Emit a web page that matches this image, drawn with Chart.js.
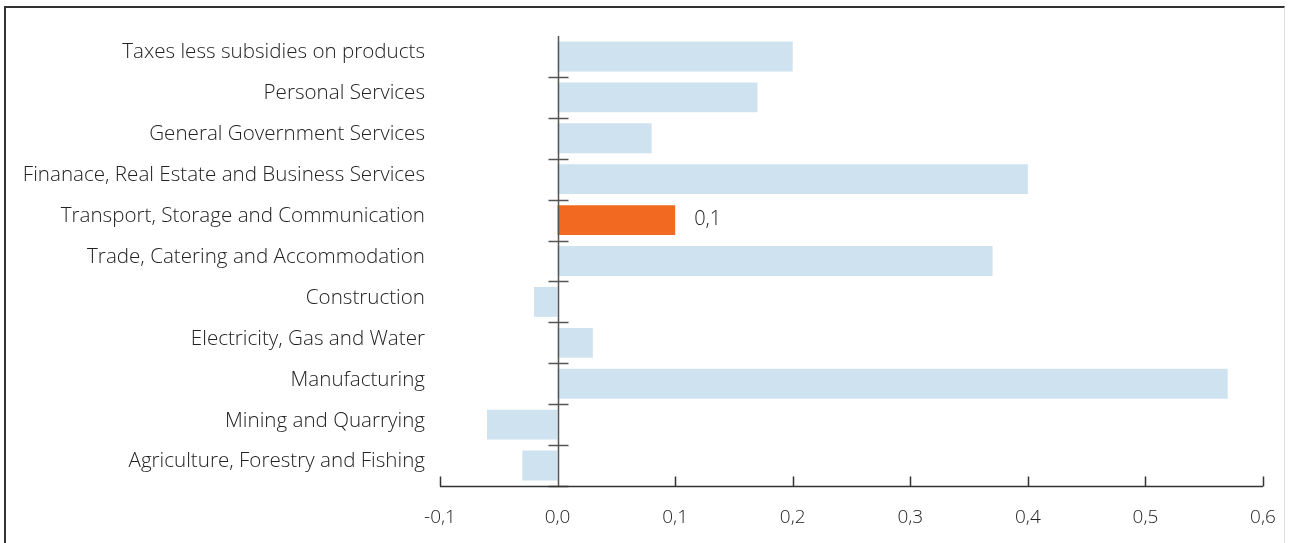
<!DOCTYPE html>
<html>
<head>
<meta charset="utf-8">
<script src="https://cdn.jsdelivr.net/npm/chart.js@4.4.0/dist/chart.umd.min.js"></script>
<style>
    html, body { margin: 0; padding: 0; background: #fff; }
    #frame {
        position: absolute; left: 4px; top: 6px; width: 1281px; height: 545px;
        border-left: 2px solid #333; border-top: 2px solid #333; border-right: 1px solid #ddd;
        box-sizing: border-box;
    }
    #wrap { position: absolute; left: 0; top: 0; width: 1291px; height: 543px; }
</style>
</head>
<body>
<div id="frame"></div>
<div id="wrap"><canvas id="chart"></canvas></div>
<script>
const categories = [
    'Taxes less subsidies on products',
    'Personal Services',
    'General Government Services',
    'Finanace, Real Estate and Business Services',
    'Transport, Storage and Communication',
    'Trade, Catering and Accommodation',
    'Construction',
    'Electricity, Gas and Water',
    'Manufacturing',
    'Mining and Quarrying',
    'Agriculture, Forestry and Fishing'
];
const values = [0.20, 0.17, 0.08, 0.40, 0.10, 0.37, -0.02, 0.03, 0.57, -0.06, -0.03];
const highlighted = 'Transport, Storage and Communication';
const axisMin = -0.1;
const axisMax = 0.6;
const axisStep = 0.1;

const fontFamily = "'Open Sans', 'Noto Sans', sans-serif";
const fmt = v => (Math.abs(v) < 1e-9 ? 0 : v).toFixed(1).replace('.', ',');

// zero line with category ticks, bottom axis with inner ticks, label on highlighted bar
const axesPlugin = {
    id: 'axesPlugin',
    afterDatasetsDraw(chart) {
        const { ctx, chartArea, scales } = chart;
        const x = scales.x;
        const x0 = Math.round(x.getPixelForValue(0)) + 0.5;
        ctx.save();
        ctx.strokeStyle = '#555';
        ctx.lineWidth = 1.5;
        ctx.beginPath();
        ctx.moveTo(x0, chartArea.top);
        ctx.lineTo(x0, chartArea.bottom);
        const step = (chartArea.bottom - chartArea.top) / categories.length;
        for (let i = 1; i <= categories.length; i++) {
            const yy = Math.round(chartArea.top + i * step) + 0.5;
            ctx.moveTo(x0 - 10, yy);
            ctx.lineTo(x0 + 10, yy);
        }
        ctx.stroke();

        ctx.strokeStyle = '#333';
        ctx.beginPath();
        const yb = Math.round(chartArea.bottom) + 0.5;
        ctx.moveTo(chartArea.left, yb);
        ctx.lineTo(chartArea.right, yb);
        x.ticks.forEach(t => {
            if (Math.abs(t.value) < 1e-9) return;
            const xx = Math.round(x.getPixelForValue(t.value)) + 0.5;
            ctx.moveTo(xx, yb);
            ctx.lineTo(xx, yb - 10);
        });
        ctx.stroke();

        const idx = categories.indexOf(highlighted);
        const bar = chart.getDatasetMeta(0).data[idx];
        ctx.fillStyle = '#222';
        ctx.font = '300 20px ' + fontFamily;
        ctx.textBaseline = 'middle';
        ctx.textAlign = 'left';
        ctx.fillText(fmt(values[idx]), bar.x + 19, bar.y - 1);
        ctx.restore();
    }
};

new Chart(document.getElementById('chart'), {
    type: 'bar',
    data: {
        labels: categories,
        datasets: [{
            data: values,
            backgroundColor: categories.map(c => c === highlighted ? '#f26922' : '#cfe2f0'),
            borderWidth: 0,
            categoryPercentage: 1,
            barPercentage: 0.73
        }]
    },
    options: {
        indexAxis: 'y',
        responsive: true,
        maintainAspectRatio: false,
        animation: false,
        layout: { padding: { top: 36, right: 28, left: 0, bottom: 0 } },
        scales: {
            x: {
                min: axisMin,
                max: axisMax,
                afterFit(scale) {
                    scale.height = 57;
                    scale.paddingLeft = 0;
                    scale.paddingRight = 0;
                },
                grid: { display: false, drawTicks: false },
                border: { display: false },
                ticks: {
                    stepSize: axisStep,
                    padding: 20,
                    color: '#222',
                    font: { family: fontFamily, size: 19, weight: 300 },
                    callback: v => fmt(v)
                }
            },
            y: {
                afterFit(scale) { scale.width = 440; },
                grid: { display: false, drawTicks: false },
                border: { display: false },
                ticks: {
                    padding: 15,
                    labelOffset: -4,
                    color: '#222',
                    font: { family: fontFamily, size: 20.6, weight: 300 }
                }
            }
        },
        plugins: {
            legend: { display: false },
            tooltip: { enabled: false }
        }
    },
    plugins: [axesPlugin]
});
</script>
</body>
</html>
